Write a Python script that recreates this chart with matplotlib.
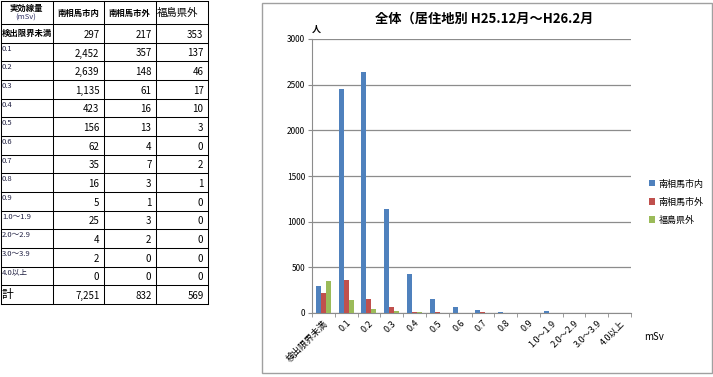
import numpy as np
import matplotlib.pyplot as plt
from matplotlib.patches import Rectangle

plt.rcParams['font.family'] = ['Noto Sans CJK JP', 'DejaVu Sans']

# データ（実効線量別の人数）
categories = ["検出限界未満", "0.1", "0.2", "0.3", "0.4", "0.5", "0.6", "0.7",
              "0.8", "0.9", "1.0～1.9", "2.0～2.9", "3.0～3.9", "4.0以上"]
series_names = ["南相馬市内", "南相馬市外", "福島県外"]
minami_in = [297, 2452, 2639, 1135, 423, 156, 62, 35, 16, 5, 25, 4, 2, 0]
minami_out = [217, 357, 148, 61, 16, 13, 4, 7, 3, 1, 3, 2, 0, 0]
fukushima_out = [353, 137, 46, 17, 10, 3, 0, 2, 1, 0, 0, 0, 0, 0]
colors = ["#4F81BD", "#C0504D", "#9BBB59"]

W, H = 713, 377
fig = plt.figure(figsize=(W / 100, H / 100), dpi=100)

# 背景用の座標系（ピクセル）
bg = fig.add_axes([0, 0, 1, 1])
bg.set_xlim(0, W)
bg.set_ylim(H, 0)
bg.axis("off")

# --- 表 ---
col_x = [0.5, 52.5, 103.5, 155.5, 207.5]
row_y = [0.5] + list(np.linspace(24, 304, 16))
for x in col_x:
    bg.plot([x, x], [row_y[0], row_y[-1]], color="black", lw=0.75)
for y in row_y:
    bg.plot([col_x[0], col_x[-1]], [y, y], color="black", lw=0.75)

bg.text(26, 8, "実効線量", ha="center", va="center", fontsize=6, fontweight="bold")
bg.text(26, 18, "(mSv)", ha="center", va="center", fontsize=5.5, color="#333366")
bg.text(78, 13, series_names[0], ha="center", va="center", fontsize=6, fontweight="bold")
bg.text(129.5, 13, series_names[1], ha="center", va="center", fontsize=6, fontweight="bold")
bg.text(157, 13, series_names[2], ha="left", va="center", fontsize=7.5)

table_series = [minami_in, minami_out, fukushima_out]
rows = categories + ["計"]
for i, lab in enumerate(rows):
    y0, y1 = row_y[i + 1], row_y[i + 2]
    if i == 0:
        bg.text(2, (y0 + y1) / 2, lab, ha="left", va="center", fontsize=6, fontweight="bold")
    elif lab == "計":
        bg.text(2, (y0 + y1) / 2, lab, ha="left", va="center", fontsize=8.5)
    else:
        bg.text(2, y0 + 6, lab, ha="left", va="center", fontsize=5.5, color="#222244")
    for j, s in enumerate(table_series):
        v = sum(s) if lab == "計" else s[i]
        bg.text(col_x[j + 2] - 4, (y0 + y1) / 2 + 1.5, f"{v:,}", ha="right",
                va="center", fontsize=7)

# --- グラフ枠 ---
bg.add_patch(Rectangle((262, 3), 450, 370, fill=False, edgecolor="#A0A0A0", lw=1))

ax = fig.add_axes([312 / W, 1 - 313 / H, (631 - 312) / W, (313 - 39) / H])
x = np.arange(len(categories))
bw = 0.22
for k, (vals, c) in enumerate(zip(table_series, colors)):
    ax.bar(x + (k - 1) * bw, vals, width=bw, color=c, label=series_names[k], zorder=3)

ax.set_xlim(-0.5, len(categories) - 0.5)
ax.set_ylim(0, 3000)
ax.set_yticks(np.arange(0, 3001, 500))
ax.grid(axis="y", color="#8C8C8C", lw=0.9, zorder=0)
ax.tick_params(axis="y", labelsize=6, length=3, color="#8C8C8C", pad=2)
ax.set_xticks(x)
ax.set_xticklabels(categories, rotation=45, ha="right", rotation_mode="anchor", fontsize=6.5)
ax.tick_params(axis="x", length=0, pad=4)
ax.set_xticks(np.arange(-0.5, len(categories)), minor=True)
ax.tick_params(axis="x", which="minor", length=3, color="#8C8C8C")
for side in ["top", "right"]:
    ax.spines[side].set_visible(False)
for side in ["left", "bottom"]:
    ax.spines[side].set_color("#8C8C8C")

fig.text(484 / W, 1 - 19 / H, "全体（居住地別 H25.12月～H26.2月", fontsize=9.5,
         fontweight="bold", ha="center", va="center")
fig.text(316 / W, 1 - 29 / H, "人", fontsize=6.5, fontweight="bold", ha="center", va="center")
fig.text(654 / W, 1 - 337 / H, "mSv", fontsize=7, ha="center", va="center")

ax.legend(loc="center left", bbox_to_anchor=(1.03, 0.405), frameon=False, fontsize=6.5,
          handlelength=0.7, handleheight=0.7, handletextpad=0.4, labelspacing=1.0)

fig.savefig("out.png", dpi=100)
plt.close(fig)
